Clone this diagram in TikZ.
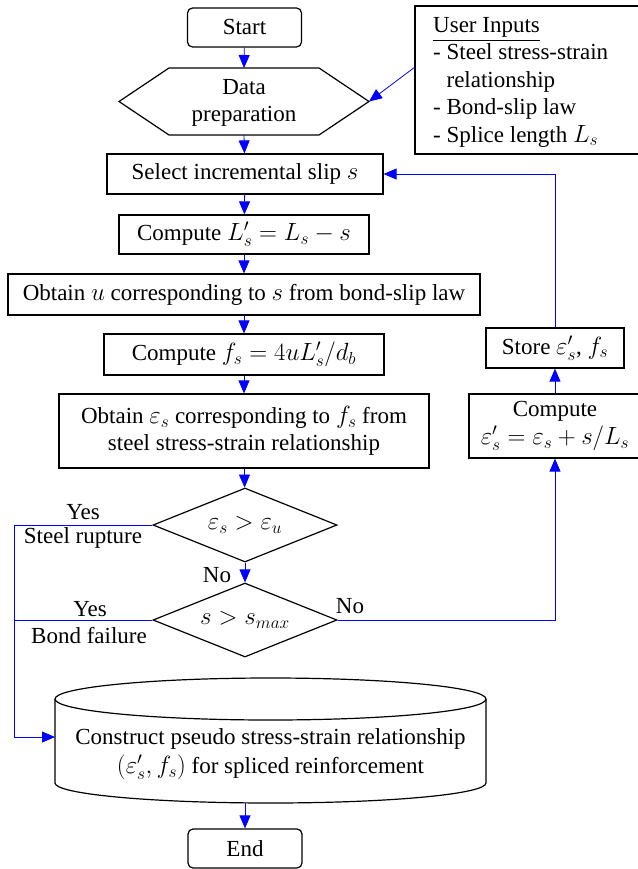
\documentclass[tikz,border=0pt]{standalone}
\usepackage{amsmath}
\usepackage{fontspec}
\setmainfont{Liberation Serif}
\usetikzlibrary{arrows.meta,shapes.geometric}

\begin{document}
\begin{tikzpicture}[x=1pt,y=-1pt,
    every node/.style={font=\fontsize{23}{27.5}\selectfont},
    proc/.style={draw, line width=1.2pt, inner sep=0pt, minimum height=40pt, align=center},
    term/.style={proc, rounded corners=5pt, minimum width=114pt, minimum height=39pt},
    decide/.style={draw, diamond, aspect=2.5, line width=1.2pt, inner sep=0pt, minimum width=184pt, minimum height=74pt},
    flow/.style={blue, line width=0.8pt, -{Triangle[length=13pt,width=11pt]}},
    wire/.style={blue, line width=0.8pt}]
  \useasboundingbox (0,0) rectangle (637,869);

  % start and data preparation
  \node[term] (start) at (244.5,27.5) {Start};
  \coordinate (hexT) at (244,68);
  \coordinate (hexB) at (244,135);
  \coordinate (hexR) at (369,101.5);
  \draw[line width=1.2pt] (119,101.5) -- (169,68) -- (319,68) -- (hexR) -- (319,135) -- (169,135) -- cycle;
  \node[align=center] (prep) at (244,103) {Data\\preparation};

  % user inputs
  \node[draw, line width=1.2pt, minimum width=225pt, minimum height=148pt, inner sep=0pt] (inbox) at (527.5,80) {};
  \node[align=left, anchor=west, inner sep=0pt] (inputs) at (433,82) {\underline{User Inputs}\\- Steel stress-strain\\\phantom{- }relationship\\- Bond-slip law\\- Splice length $L_s$};
  \coordinate (inL) at (415,67);

  % main column
  \node[proc, minimum width=276pt] (slip) at (245,174) {Select incremental slip $s$};
  \node[proc, minimum width=250pt, minimum height=39pt] (lprime) at (244,234.5) {Compute $L_s'=L_s-s$};
  \node[proc, minimum width=472pt, minimum height=41pt] (bond) at (244,294.5) {Obtain $u$ corresponding to $s$ from bond-slip law};
  \node[proc, minimum width=280pt, minimum height=41pt] (stress) at (244,354.5) {Compute $f_s=4uL_s'/d_b$};
  \node[proc, minimum width=370pt, minimum height=74pt] (strain) at (244,431) {Obtain $\varepsilon_s$ corresponding to $f_s$ from\\steel stress-strain relationship};
  \node[decide] (rupture) at (245,525) {$\varepsilon_s>\varepsilon_u$};
  \node[decide] (bondfail) at (245,620) {$s>s_{max}$};

  % right column
  \node[proc, minimum width=172pt, minimum height=64pt] (update) at (555,426) {Compute\\$\varepsilon_s'=\varepsilon_s+s/L_s$};
  \node[proc, minimum width=138pt] (store) at (555,348) {Store $\varepsilon_s'$, $f_s$};

  % output cylinder
  \draw[line width=1.2pt] (270.5,699) ellipse [x radius=215.5pt, y radius=21pt];
  \draw[line width=1.2pt] (55,699) -- (55,783) arc [start angle=180, end angle=360, x radius=215.5pt, y radius=20pt] -- (486,699);
  \node[align=center, font=\fontsize{23}{29}\selectfont] (pseudo) at (270.5,754) {Construct pseudo stress-strain relationship\\$(\varepsilon_s', f_s)$ for spliced reinforcement};
  \coordinate (cylW) at (55,737);
  \coordinate (cylB) at (245,803);
  \node[term] (end) at (245,848.5) {End};

  % connectors
  \coordinate (rail) at (14,737);
  \draw[flow] (start) -- (hexT);
  \draw[flow] (inL) -- (hexR);
  \draw[flow] (hexB) -- (slip);
  \draw[flow] (slip) -- (lprime);
  \draw[flow] (lprime) -- (bond);
  \draw[flow] (bond) -- (stress);
  \draw[flow] (stress) -- (strain);
  \draw[flow] (strain) -- (rupture);
  \draw[flow] (rupture) -- (bondfail);
  \draw[flow] (bondfail.east) -| (update);
  \draw[flow] (update) -- (store);
  \draw[flow] (store) |- (slip);
  \draw[flow] (rupture.west) -- (rupture.west -| rail) |- (cylW);
  \draw[wire] (bondfail.west) -- (bondfail.west -| rail);
  \draw[flow] (cylB) -- (end);

  % branch labels
  \node (yes1) at (83,512) {Yes};
  \node (rupt) at (83,538) {Steel rupture};
  \node (no1) at (217,575) {No};
  \node (yes2) at (90,609) {Yes};
  \node (bfail) at (89,636) {Bond failure};
  \node (no2) at (350,606) {No};
\end{tikzpicture}
\end{document}
